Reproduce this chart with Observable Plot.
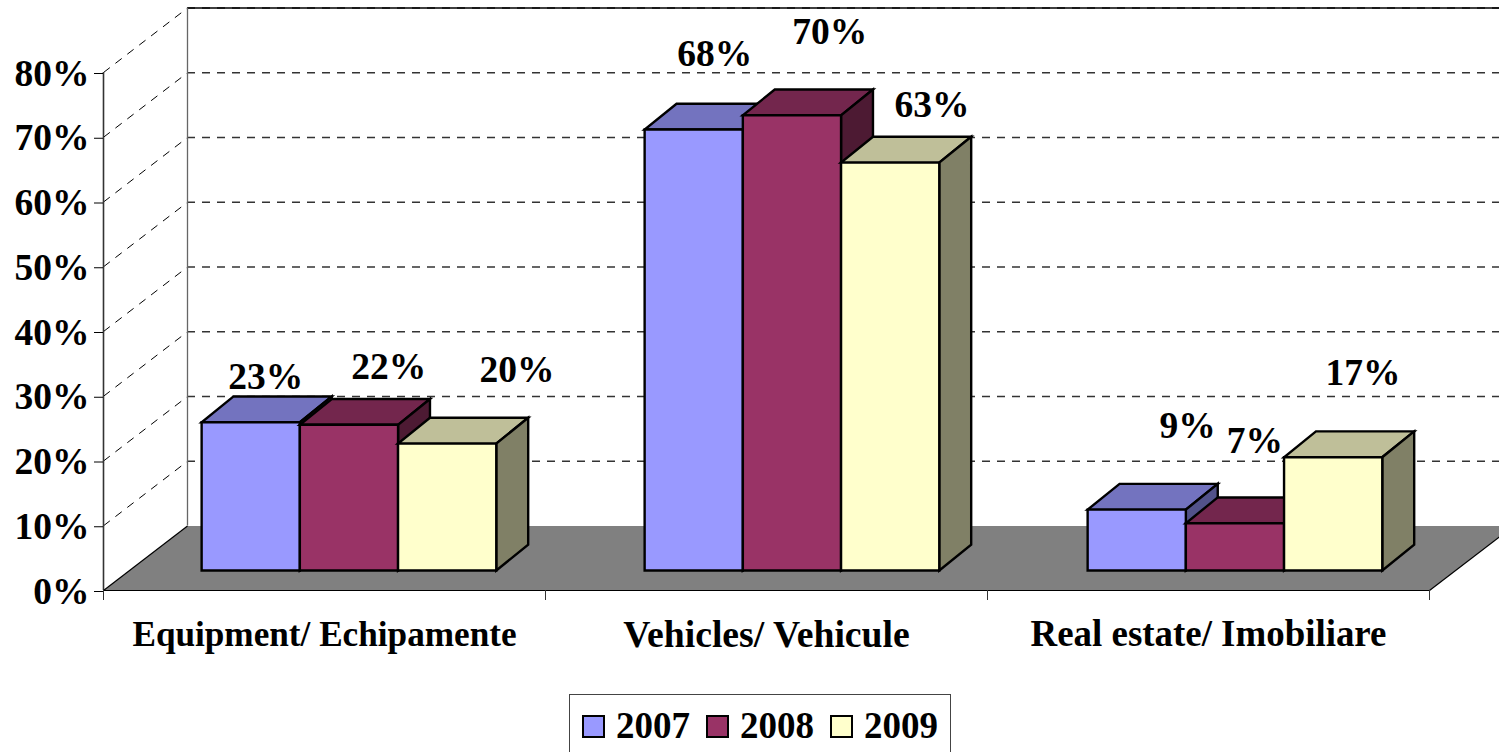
<!DOCTYPE html>
<html>
<head>
<meta charset="utf-8">
<style>
html,body{margin:0;padding:0;background:#fff;overflow:hidden;height:752px;}
#legend{position:absolute;left:569px;top:694px;width:382px;height:58px;box-sizing:border-box;border:1.5px solid #444;border-bottom:none;
font:bold 37px "Liberation Serif",serif;color:#000;}
#legend .sw{position:absolute;top:20px;width:23px;height:23px;box-sizing:border-box;border:2.5px solid #000;}
#legend .tx{position:absolute;top:11px;line-height:40px;}
</style>
<script src="https://cdn.jsdelivr.net/npm/d3@7"></script>
<script src="https://cdn.jsdelivr.net/npm/@observablehq/plot@0.6"></script>
</head>
<body>
<div id="chart"></div>
<div id="legend"></div>
<script>
const categories = ["Equipment/ Echipamente", "Vehicles/ Vehicule", "Real estate/ Imobiliare"];
const categoryFontSizes = [35.2, 37.7, 36.9];
const years = ["2007", "2008", "2009"];
const values2007 = [22.9, 68.1, 9.4];
const values2008 = [22.5, 70.3, 7.3];
const values2009 = [19.6, 63.0, 17.5];
const labels2007 = ["23%", "68%", "9%"];
const labels2008 = ["22%", "70%", "7%"];
const labels2009 = ["20%", "63%", "17%"];
const frontColors = ["#9999FF", "#993366", "#FFFFCC"];
const topColors = ["#7373BF", "#73264D", "#BFBF99"];
const sideColors = ["#52528A", "#4D1A33", "#808066"];
const labelNudgeX = [[-17, -11, 19], [8, 6, -12], [38, 10, -2]];
const labelNudgeY = [[-20, -50, -58], [-33, -58, -57], [-48, -32, -59]];

const seriesValues = [values2007, values2008, values2009];
const seriesLabels = [labels2007, labels2008, labels2009];

const pxPerX = 442, pxPerY = 6.475;
const depthX = 84 / pxPerX, depthY = 64.5 / pxPerY;
const px = (x, d) => x + d * depthX;
const py = (v, d) => v + d * depthY;
const barStart = 0.165, barWidth = 0.2222, groupStep = 443 / pxPerX;
const dx0 = 0.3, dx1 = 0.68, dy0 = 0.31, dy1 = 0.71;

const faces = [];
const pointLabels = [];
let faceId = 0;
function addFace(color, pts) {
  const id = faceId++;
  pts.forEach(([x, y]) => faces.push({x, y, id, color}));
}
categories.forEach((_, k) => {
  years.forEach((_, s) => {
    const h = seriesValues[s][k];
    const x0 = k * groupStep + barStart + s * barWidth, x1 = x0 + barWidth;
    addFace(topColors[s], [[px(x0,dx0),py(h,dy0)],[px(x1,dx0),py(h,dy0)],[px(x1,dx1),py(h,dy1)],[px(x0,dx1),py(h,dy1)]]);
    addFace(sideColors[s], [[px(x1,dx0),py(0,dy0)],[px(x1,dx1),py(0,dy1)],[px(x1,dx1),py(h,dy1)],[px(x1,dx0),py(h,dy0)]]);
    addFace(frontColors[s], [[px(x0,dx0),py(0,dy0)],[px(x1,dx0),py(0,dy0)],[px(x1,dx0),py(h,dy0)],[px(x0,dx0),py(h,dy0)]]);
    pointLabels.push({
      x: px((x0 + x1) / 2, dx1) + labelNudgeX[s][k] / pxPerX,
      y: py(h, dy1) - labelNudgeY[s][k] / pxPerY - 0.1,
      text: seriesLabels[s][k]
    });
  });
});

const xMax = 1396 / pxPerX;
const ticks = d3.range(0, 90, 10);
const floor = [[0,0],[3,0],[px(3,1),py(0,1)],[px(0,1),py(0,1)]].map(([x,y]) => ({x,y}));
const dashedGrid = ticks.slice(1).map(v => py(v,1));

const plot = Plot.plot({
  width: 1499, height: 690,
  marginLeft: 103, marginRight: 0, marginTop: 7.25, marginBottom: 100,
  x: {domain: [0, xMax], axis: null},
  y: {domain: [0, 90], axis: null},
  color: {type: "identity"},
  style: {fontFamily: "'Liberation Serif', serif", fontWeight: "bold", fontSize: "37.5px", color: "#000", background: "#fff"},
  marks: [
    // walls
    Plot.ruleY(dashedGrid, {x1: px(0,1), x2: xMax, stroke: "#333", strokeWidth: 1.3, strokeDasharray: "8 7"}),
    Plot.ruleY([py(80,1)], {x1: px(0,1), x2: xMax, stroke: "#000", strokeWidth: 1.5}),
    Plot.link(ticks.slice(1), {x1: 0, y1: d => d, x2: px(0,1), y2: d => py(d,1), stroke: "#000", strokeWidth: 1, strokeDasharray: "8 7"}),
    Plot.ruleX([px(0,1)], {y1: py(0,1), y2: py(80,1), stroke: "#666", strokeWidth: 1.3}),
    Plot.ruleX([0], {y1: 0, y2: 80, stroke: "#333", strokeWidth: 1.6}),
    // floor
    Plot.line(floor, {x: "x", y: "y", curve: "linear-closed", fill: "#808080", stroke: "none"}),
    Plot.ruleY([0], {x1: 0, x2: 3, stroke: "#000", strokeWidth: 1.2}),
    Plot.link([0], {x1: 0, y1: 0, x2: px(0,1), y2: py(0,1), stroke: "#000", strokeWidth: 1.2}),
    Plot.link([3], {x1: 3, y1: 0, x2: px(3,1), y2: py(0,1), stroke: "#000", strokeWidth: 1.2}),
    // bars
    Plot.line(faces, {x: "x", y: "y", z: "id", fill: "color", stroke: "#000", strokeWidth: 2.4,
      curve: "linear-closed", strokeLinejoin: "miter", strokeMiterlimit: 4}),
    // axes
    Plot.axisY({ticks, tickFormat: d => d + "%", tickSize: 9, tickPadding: 5, dy: 1, label: null, stroke: "#000", fill: "#000"}),
    Plot.axisX({ticks: [0, 1, 2, 3], tickSize: 10, tickFormat: () => "", label: null, stroke: "#333"}),
    Plot.text(categories, {x: (d, i) => i + 0.5, y: 0, dy: 44, text: d => d, lineAnchor: "middle", fill: "#000", fontSize: (d, i) => categoryFontSizes[i]}),
    // data labels
    Plot.text(pointLabels, {x: "x", y: "y", text: "text", lineAnchor: "middle", fill: "#000"})
  ]
});
document.getElementById("chart").appendChild(plot);

const legend = document.getElementById("legend");
const swLeft = [12, 136, 260], txLeft = [46, 170, 294];
years.forEach((y, i) => {
  const sw = document.createElement("div");
  sw.className = "sw"; sw.style.left = swLeft[i] + "px"; sw.style.background = frontColors[i];
  const tx = document.createElement("div");
  tx.className = "tx"; tx.style.left = txLeft[i] + "px"; tx.textContent = y;
  legend.append(sw, tx);
});
</script>
</body>
</html>
